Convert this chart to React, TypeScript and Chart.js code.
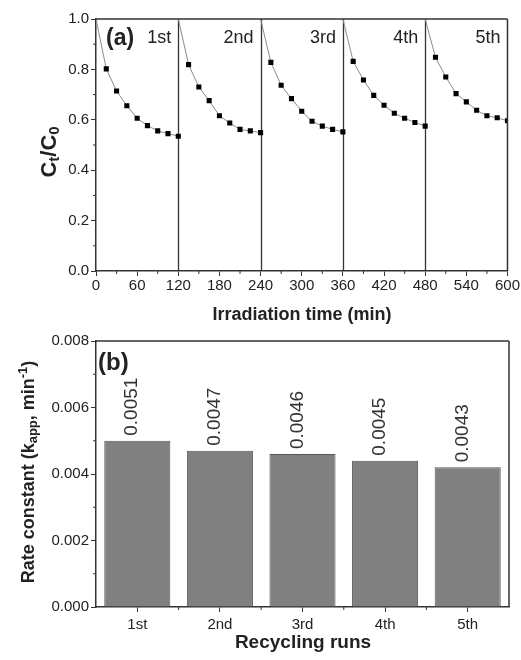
import React, { useEffect, useRef } from 'react';
import { Chart, registerables } from 'chart.js';

Chart.register(...registerables);

const FONT = 'Arial, "Liberation Sans", Helvetica, sans-serif';

// ---- data (panel a) ----
const runNames = ['1st', '2nd', '3rd', '4th', '5th'];
const runStarts = [0, 120, 240, 360, 480];
const sampleTimes = [0, 15, 30, 45, 60, 75, 90, 105, 120];
const run1 = [1.0, 0.802, 0.714, 0.656, 0.606, 0.577, 0.556, 0.545, 0.535];
const run2 = [1.0, 0.819, 0.73, 0.676, 0.616, 0.587, 0.562, 0.556, 0.549];
const run3 = [1.0, 0.828, 0.737, 0.684, 0.634, 0.594, 0.575, 0.562, 0.552];
const run4 = [1.0, 0.832, 0.758, 0.697, 0.658, 0.626, 0.606, 0.589, 0.575];
const run5 = [1.0, 0.848, 0.77, 0.704, 0.671, 0.638, 0.616, 0.608, 0.596];
const runs = [run1, run2, run3, run4, run5];
const xMinorA = [30, 90, 150, 210, 270, 330, 390, 450, 510, 570];
const yMinorA = [0.1, 0.3, 0.5, 0.7, 0.9];

// ---- data (panel b) ----
const cycleLabels = ['1st', '2nd', '3rd', '4th', '5th'];
const rateValues = [0.005, 0.0047, 0.0046, 0.0044, 0.0042];
const rateLabels = ['0.0051', '0.0047', '0.0046', '0.0045', '0.0043'];
const yMinorB = [0.001, 0.003, 0.005, 0.007];

const AXIS = '#333';
const TXT = '#222';

type Part = { t: string; size: number; bold?: boolean; dy?: number };

function drawParts(ctx: CanvasRenderingContext2D, parts: Part[], cx: number, cy: number, rotate: boolean) {
  ctx.save();
  ctx.translate(cx, cy);
  if (rotate) ctx.rotate(-Math.PI / 2);
  ctx.textBaseline = 'middle';
  ctx.textAlign = 'left';
  ctx.fillStyle = TXT;
  let total = 0;
  const widths = parts.map((p) => {
    ctx.font = `${p.bold ? 'bold ' : ''}${p.size}px ${FONT}`;
    const w = ctx.measureText(p.t).width;
    total += w;
    return w;
  });
  let x = -total / 2;
  parts.forEach((p, i) => {
    ctx.font = `${p.bold ? 'bold ' : ''}${p.size}px ${FONT}`;
    ctx.fillText(p.t, x, p.dy || 0);
    x += widths[i];
  });
  ctx.restore();
}

function line(ctx: CanvasRenderingContext2D, x1: number, y1: number, x2: number, y2: number) {
  ctx.beginPath();
  ctx.moveTo(x1, y1);
  ctx.lineTo(x2, y2);
  ctx.stroke();
}

const panelAPlugin = {
  id: 'panelA',
  beforeDatasetsDraw(chart: any) {
    const { ctx, chartArea: ca, scales } = chart;
    const x = scales.x;
    ctx.save();
    ctx.strokeStyle = AXIS;
    ctx.lineWidth = 1.3;
    runStarts.slice(1).forEach((s) => {
      const px = Math.round(x.getPixelForValue(s)) + 0.5;
      line(ctx, px, ca.top, px, ca.bottom);
    });
    ctx.restore();
  },
  afterDraw(chart: any) {
    const { ctx, chartArea: ca, scales } = chart;
    const x = scales.x;
    const y = scales.y;
    ctx.save();
    ctx.strokeStyle = AXIS;
    ctx.lineWidth = 1.5;
    line(ctx, ca.left, ca.top, ca.right, ca.top);
    line(ctx, ca.right, ca.top, ca.right, ca.bottom);
    ctx.lineWidth = 1;
    xMinorA.forEach((v) => {
      const px = x.getPixelForValue(v);
      line(ctx, px, ca.bottom, px, ca.bottom + 3);
    });
    yMinorA.forEach((v) => {
      const py = y.getPixelForValue(v);
      line(ctx, ca.left, py, ca.left - 3, py);
    });
    // panel label
    ctx.fillStyle = TXT;
    ctx.textBaseline = 'middle';
    ctx.textAlign = 'left';
    ctx.font = `bold 23px ${FONT}`;
    ctx.fillText('(a)', ca.left + 10, 39);
    // run labels
    ctx.font = `18px ${FONT}`;
    ctx.textAlign = 'right';
    runStarts.forEach((s, i) => {
      const px = x.getPixelForValue(s + 120);
      ctx.fillText(runNames[i], px - 7, 38);
    });
    ctx.restore();
    drawParts(ctx, [{ t: 'Irradiation time (min)', size: 18, bold: true }], 302, 315, false);
    drawParts(
      ctx,
      [
        { t: 'C', size: 22, bold: true },
        { t: 't', size: 15, bold: true, dy: 5 },
        { t: '/C', size: 22, bold: true },
        { t: '0', size: 15, bold: true, dy: 5 },
      ],
      50,
      152,
      true
    );
  },
};

const panelBPlugin = {
  id: 'panelB',
  afterDatasetsDraw(chart: any) {
    const { ctx } = chart;
    const meta = chart.getDatasetMeta(0);
    ctx.save();
    ctx.fillStyle = '#333';
    ctx.font = `19px ${FONT}`;
    ctx.textAlign = 'left';
    ctx.textBaseline = 'alphabetic';
    meta.data.forEach((bar: any, i: number) => {
      ctx.save();
      ctx.translate(bar.x, bar.y - 5);
      ctx.rotate(-Math.PI / 2);
      ctx.fillText(rateLabels[i], 0, 0);
      ctx.restore();
    });
    ctx.restore();
  },
  afterDraw(chart: any) {
    const { ctx, chartArea: ca, scales } = chart;
    const x = scales.x;
    const y = scales.y;
    ctx.save();
    ctx.strokeStyle = AXIS;
    ctx.lineWidth = 1.5;
    line(ctx, ca.left, ca.top, ca.right, ca.top);
    line(ctx, ca.right, ca.top, ca.right, ca.bottom);
    ctx.lineWidth = 1;
    for (let i = 0; i < cycleLabels.length - 1; i++) {
      const px = (x.getPixelForValue(i) + x.getPixelForValue(i + 1)) / 2;
      line(ctx, px, ca.bottom, px, ca.bottom + 3);
    }
    yMinorB.forEach((v) => {
      const py = y.getPixelForValue(v);
      line(ctx, ca.left, py, ca.left - 3, py);
    });
    ctx.fillStyle = TXT;
    ctx.textBaseline = 'middle';
    ctx.textAlign = 'left';
    ctx.font = `bold 24px ${FONT}`;
    ctx.fillText('(b)', ca.left + 2, 33);
    ctx.restore();
    drawParts(ctx, [{ t: 'Recycling runs', size: 19, bold: true }], 303, 313, false);
    drawParts(
      ctx,
      [
        { t: 'Rate constant (k', size: 18, bold: true },
        { t: 'app', size: 13, bold: true, dy: 4 },
        { t: ', min', size: 18, bold: true },
        { t: '-1', size: 13, bold: true, dy: -6 },
        { t: ')', size: 18, bold: true },
      ],
      29,
      142,
      true
    );
  },
};

function PanelA() {
  const ref = useRef<HTMLCanvasElement>(null);
  useEffect(() => {
    if (!ref.current) return;
    const datasets = runs.map((vals, i) => ({
      label: runNames[i],
      data: sampleTimes.map((t, j) => ({ x: runStarts[i] + t, y: vals[j] })),
      showLine: true,
      borderColor: '#8c8c8c',
      borderWidth: 1,
      pointStyle: 'rect',
      pointRadius: sampleTimes.map((_, j) => (j === 0 ? 0 : 3.6)),
      pointBackgroundColor: '#000',
      pointBorderColor: '#000',
      pointBorderWidth: 0,
    }));
    const chart = new Chart(ref.current, {
      type: 'scatter',
      data: { datasets },
      plugins: [panelAPlugin],
      options: {
        animation: false,
        responsive: false,
        devicePixelRatio: 1,
        layout: { padding: { top: 19, right: 12, left: 0, bottom: 0 } },
        plugins: { legend: { display: false }, tooltip: { enabled: false } },
        scales: {
          x: {
            type: 'linear',
            min: 0,
            max: 600,
            afterFit: (s: any) => {
              s.height = 59;
            },
            ticks: { stepSize: 60, color: TXT, font: { family: FONT, size: 15 }, padding: 1, maxRotation: 0 },
            grid: { drawOnChartArea: false, tickLength: 5, color: AXIS, tickWidth: 1 },
            border: { color: AXIS, width: 1.5 },
          },
          y: {
            type: 'linear',
            min: 0,
            max: 1,
            afterFit: (s: any) => {
              s.width = 96;
            },
            ticks: {
              stepSize: 0.2,
              color: TXT,
              font: { family: FONT, size: 15 },
              padding: 2,
              callback: (v: any) => Number(v).toFixed(1),
            },
            grid: { drawOnChartArea: false, tickLength: 5, color: AXIS, tickWidth: 1 },
            border: { color: AXIS, width: 1.5 },
          },
        },
      },
    } as any);
    return () => chart.destroy();
  }, []);
  return <canvas ref={ref} width={521} height={330} style={{ display: 'block' }} />;
}

function PanelB() {
  const ref = useRef<HTMLCanvasElement>(null);
  useEffect(() => {
    if (!ref.current) return;
    const chart = new Chart(ref.current, {
      type: 'bar',
      data: {
        labels: cycleLabels,
        datasets: [
          {
            label: 'Rate constant',
            data: rateValues,
            backgroundColor: '#808080',
            borderColor: '#555',
            borderWidth: 1,
            barPercentage: 0.8,
            categoryPercentage: 1.0,
          },
        ],
      },
      plugins: [panelBPlugin],
      options: {
        animation: false,
        responsive: false,
        devicePixelRatio: 1,
        layout: { padding: { top: 10, right: 12, left: 0, bottom: 0 } },
        plugins: { legend: { display: false }, tooltip: { enabled: false } },
        scales: {
          x: {
            afterFit: (s: any) => {
              s.height = 53;
            },
            ticks: { color: TXT, font: { family: FONT, size: 15 }, padding: 4, maxRotation: 0 },
            grid: { drawOnChartArea: false, tickLength: 5, color: AXIS, tickWidth: 1, offset: false },
            border: { color: AXIS, width: 1.5 },
          },
          y: {
            min: 0,
            max: 0.008,
            afterFit: (s: any) => {
              s.width = 96;
            },
            ticks: {
              stepSize: 0.002,
              color: TXT,
              font: { family: FONT, size: 15 },
              padding: 2,
              callback: (v: any) => Number(v).toFixed(3),
            },
            grid: { drawOnChartArea: false, tickLength: 5, color: AXIS, tickWidth: 1 },
            border: { color: AXIS, width: 1.5 },
          },
        },
      },
    } as any);
    return () => chart.destroy();
  }, []);
  return <canvas ref={ref} width={521} height={330} style={{ display: 'block' }} />;
}

export default function App() {
  return (
    <div style={{ position: 'absolute', left: 0, top: 0, width: 521, height: 660, background: '#fff' }}>
      <PanelA />
      <PanelB />
    </div>
  );
}
